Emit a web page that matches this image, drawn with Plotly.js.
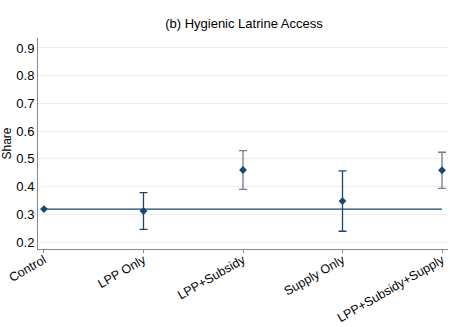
<!DOCTYPE html>
<html><head><meta charset="utf-8">
<script src="https://cdn.plot.ly/plotly-3.0.1.min.js"></script>
<style>html,body{margin:0;padding:0;background:#fff}#c{width:450px;height:327px}</style>
</head><body><div id="c"></div>
<script>
const categories = ["Control", "LPP Only", "LPP+Subsidy", "Supply Only", "LPP+Subsidy+Supply"];
const shares = [0.319, 0.312, 0.460, 0.348, 0.459];
const upper = [0.319, 0.378, 0.530, 0.457, 0.524];
const lower = [0.319, 0.246, 0.390, 0.239, 0.394];
const barGroup = ["none", "dark", "light", "dark", "light"];
const controlValue = shares[0];
const yTicks = [0.2, 0.3, 0.4, 0.5, 0.6, 0.7, 0.8, 0.9];

const navy = "#1a476f";
const slate = "#6e7f91";
const xIdx = categories.map((_, i) => i);

function subset(group) {
  const idx = xIdx.filter(i => barGroup[i] === group);
  return {
    x: idx.map(i => i),
    y: idx.map(i => shares[i]),
    up: idx.map(i => upper[i] - shares[i]),
    dn: idx.map(i => shares[i] - lower[i])
  };
}
const dark = subset("dark"), light = subset("light");
const mk = {color: navy, size: 6, symbol: "diamond"};

const traces = [
  {x: [0, categories.length - 1], y: [controlValue, controlValue], mode: "lines",
   line: {color: navy, width: 1.3}, hoverinfo: "skip", showlegend: false},
  {x: dark.x, y: dark.y, mode: "markers", type: "scatter", showlegend: false, marker: mk,
   error_y: {type: "data", symmetric: false, array: dark.up, arrayminus: dark.dn, color: navy, thickness: 1.3, width: 4}},
  {x: light.x, y: light.y, mode: "markers", type: "scatter", showlegend: false, marker: mk,
   error_y: {type: "data", symmetric: false, array: light.up, arrayminus: light.dn, color: slate, thickness: 1.3, width: 4}},
  {x: [0], y: [controlValue], mode: "markers", showlegend: false, marker: mk}
];

const layout = {
  width: 450, height: 327,
  margin: {l: 38, r: 2, t: 38, b: 78},
  paper_bgcolor: "#fff", plot_bgcolor: "#fff",
  font: {family: "Liberation Sans, Arial, sans-serif", size: 13, color: "#000"},
  title: {text: "(b) Hygienic Latrine Access", x: 0.542, xanchor: "center", y: 0.928, yanchor: "middle",
          font: {size: 13, color: "#000"}},
  xaxis: {range: [-0.06, 4.06], tickvals: xIdx, ticktext: categories, tickangle: -30,
          showgrid: false, zeroline: false, showline: true, linecolor: "#888", linewidth: 1,
          ticks: "outside", ticklen: 3, tickcolor: "#888", tickfont: {size: 12.5},
          ticklabelstandoff: -5},
  yaxis: {range: [0.175, 0.936], tickvals: yTicks, ticktext: yTicks.map(v => v.toFixed(1)),
          showgrid: true, gridcolor: "#eeeeee", gridwidth: 1, zeroline: false,
          showline: true, linecolor: "#888", linewidth: 1, ticks: "", tickfont: {size: 13},
          title: {text: "Share", font: {size: 12}, standoff: 4}},
  showlegend: false
};
Plotly.newPlot("c", traces, layout, {displayModeBar: false, staticPlot: true});
</script></body></html>
